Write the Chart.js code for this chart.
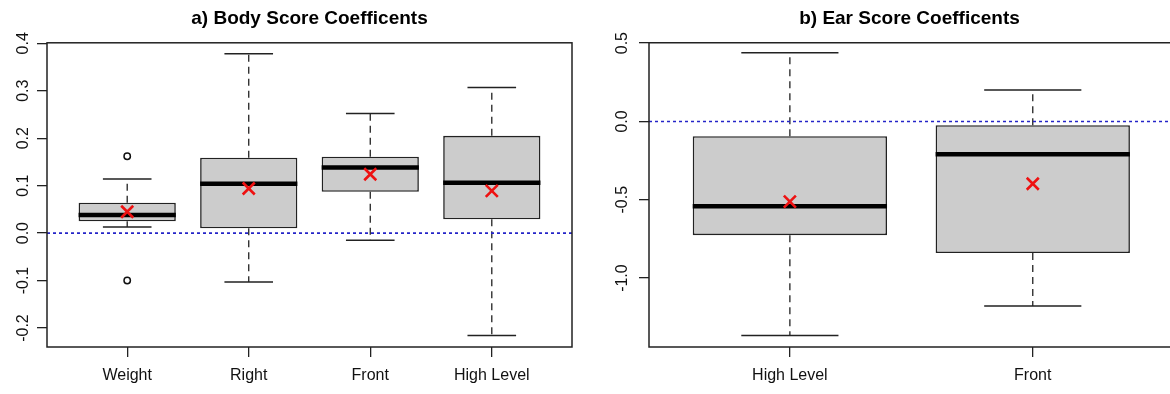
<!DOCTYPE html>
<html>
<head>
<meta charset="utf-8">
<script src="https://cdn.jsdelivr.net/npm/chart.js@4.4.1/dist/chart.umd.min.js"></script>
<style>
  body { margin: 0; background: #fff; }
  canvas { position: absolute; top: 0; }
  #bodyChart { left: 0; }
  #earChart { left: 600px; }
</style>
</head>
<body>
<canvas id="bodyChart" width="600" height="394"></canvas>
<canvas id="earChart" width="570" height="394"></canvas>
<script>
// a) Body score coefficients
const bodyLabels = ["Weight", "Right", "Front", "High Level"];
const bodyMin = [0.013, -0.103, -0.015, -0.216];
const bodyQ1 = [0.025, 0.010, 0.087, 0.029];
const bodyMedian = [0.038, 0.104, 0.138, 0.106];
const bodyQ3 = [0.064, 0.159, 0.161, 0.205];
const bodyMax = [0.114, 0.378, 0.252, 0.307];
const bodyMean = [0.045, 0.094, 0.124, 0.089];
const bodyOutliers = [{ x: 1, y: 0.162 }, { x: 1, y: -0.100 }];
const bodyTicks = [-0.2, -0.1, 0.0, 0.1, 0.2, 0.3, 0.4];

// b) Ear score coefficients
const earLabels = ["High Level", "Front"];
const earMin = [-1.366, -1.179];
const earQ1 = [-0.726, -0.840];
const earMedian = [-0.542, -0.210];
const earQ3 = [-0.094, -0.024];
const earMax = [0.438, 0.200];
const earMean = [-0.512, -0.398];
const earOutliers = [];
const earTicks = [-1.0, -0.5, 0.0, 0.5];

Chart.defaults.font.family = '"Liberation Sans", Arial, Helvetica, sans-serif';
Chart.defaults.color = "#111";

const INK = "#222";

// whiskers, medians, zero line and the box frame, all placed through the chart's scales
const boxExtras = {
  id: "boxExtras",
  beforeDatasetsDraw(chart, args, opts) {
    const { ctx, scales: { y } } = chart;
    const meta = chart.getDatasetMeta(0);
    ctx.save();
    ctx.strokeStyle = INK;
    meta.data.forEach((bar, i) => {
      const x = bar.x;
      const half = bar.width / 4;
      ctx.lineWidth = 1.3;
      ctx.setLineDash([7, 5]);
      ctx.beginPath();
      ctx.moveTo(x, y.getPixelForValue(opts.q3[i]));
      ctx.lineTo(x, y.getPixelForValue(opts.max[i]));
      ctx.moveTo(x, y.getPixelForValue(opts.q1[i]));
      ctx.lineTo(x, y.getPixelForValue(opts.min[i]));
      ctx.stroke();
      ctx.setLineDash([]);
      ctx.lineWidth = 1.5;
      ctx.beginPath();
      for (const v of [opts.max[i], opts.min[i]]) {
        const py = y.getPixelForValue(v);
        ctx.moveTo(x - half, py);
        ctx.lineTo(x + half, py);
      }
      ctx.stroke();
    });
    ctx.restore();
  },
  afterDatasetDraw(chart, args, opts) {
    if (args.index !== 0) return;
    const { ctx, scales: { y } } = chart;
    ctx.save();
    ctx.strokeStyle = "#000";
    ctx.lineWidth = 4.5;
    args.meta.data.forEach((bar, i) => {
      const py = y.getPixelForValue(opts.median[i]);
      ctx.beginPath();
      ctx.moveTo(bar.x - bar.width / 2, py);
      ctx.lineTo(bar.x + bar.width / 2, py);
      ctx.stroke();
    });
    ctx.restore();
  },
  afterDatasetsDraw(chart, args, opts) {
    const { ctx, chartArea: a, scales: { y } } = chart;
    ctx.save();
    // reference line at zero
    const y0 = y.getPixelForValue(0);
    ctx.strokeStyle = "#2424c8";
    ctx.lineWidth = 1.6;
    ctx.setLineDash([3, 3]);
    ctx.beginPath();
    ctx.moveTo(a.left, y0);
    ctx.lineTo(a.right, y0);
    ctx.stroke();
    // frame (the right side of panel b runs off the picture)
    const closed = a.right < chart.width - 1;
    ctx.setLineDash([]);
    ctx.strokeStyle = INK;
    ctx.lineWidth = 1.5;
    if (closed) {
      ctx.strokeRect(a.left, a.top, a.right - a.left, a.bottom - a.top);
    } else {
      ctx.beginPath();
      ctx.moveTo(a.right + 2, a.top);
      ctx.lineTo(a.left, a.top);
      ctx.lineTo(a.left, a.bottom);
      ctx.lineTo(a.right + 2, a.bottom);
      ctx.stroke();
    }
    ctx.restore();
  },
};

function makeBoxChart(id, o) {
  const labels = o.labels;
  return new Chart(document.getElementById(id), {
    type: "bar",
    data: {
      datasets: [
        {
          data: labels.map((_, i) => ({ x: i + 1, y: [o.q1[i], o.q3[i]] })),
          backgroundColor: "#cccccc",
          borderColor: INK,
          borderWidth: 1.6,
          borderSkipped: false,
          categoryPercentage: 0.8,
          barPercentage: 1.0,
          order: 2,
        },
        {
          type: "scatter",
          data: labels.map((_, i) => ({ x: i + 1, y: o.mean[i] })),
          pointStyle: "crossRot",
          pointRadius: 8.5,
          borderColor: "#ee1111",
          borderWidth: 2.6,
          order: 1,
        },
        {
          type: "scatter",
          data: o.outliers,
          pointStyle: "circle",
          pointRadius: 3.2,
          borderColor: "#111",
          backgroundColor: "#fff",
          borderWidth: 1.5,
          order: 1,
        },
      ],
    },
    options: {
      responsive: false,
      animation: false,
      devicePixelRatio: 1,
      layout: { autoPadding: false, padding: { left: 0, right: o.padRight, top: 0, bottom: 0 } },
      plugins: {
        legend: { display: false },
        tooltip: { enabled: false },
        title: {
          display: true,
          text: o.title,
          fullSize: false,
          color: "#000",
          font: { size: 19, weight: "bold" },
          padding: { top: 7, bottom: 13 },
        },
        boxExtras: { min: o.min, q1: o.q1, median: o.median, q3: o.q3, max: o.max },
      },
      scales: {
        x: {
          type: "linear",
          offset: false,
          min: o.xMin,
          max: o.xMax,
          afterBuildTicks: (s) => { s.ticks = labels.map((_, i) => ({ value: i + 1 })); },
          afterFit: (s) => { s.height = 47; },
          ticks: {
            callback: (v) => labels[Math.round(v) - 1],
            autoSkip: false,
            minRotation: 0,
            maxRotation: 0,
            padding: 9,
            color: "#111",
            font: { size: 16 },
          },
          grid: { offset: false, drawOnChartArea: false, tickLength: 10, color: INK, lineWidth: 1.3 },
          border: { display: false },
        },
        y: {
          type: "linear",
          min: o.yMin,
          max: o.yMax,
          afterBuildTicks: (s) => { s.ticks = o.yTicks.map((v) => ({ value: v })); },
          afterFit: (s) => { s.width = o.axisWidth; },
          ticks: {
            callback: (v) => v.toFixed(1),
            autoSkip: false,
            minRotation: 90,
            maxRotation: 90,
            crossAlign: "center",
            padding: o.labelPad,
            color: "#111",
            font: { size: 16 },
          },
          grid: { drawOnChartArea: false, tickLength: 10, color: INK, lineWidth: 1.3 },
          border: { display: false },
        },
      },
    },
    plugins: [boxExtras],
  });
}

makeBoxChart("bodyChart", {
  title: "a) Body Score Coefficents",
  labels: bodyLabels,
  min: bodyMin, q1: bodyQ1, median: bodyMedian, q3: bodyQ3, max: bodyMax,
  mean: bodyMean, outliers: bodyOutliers, yTicks: bodyTicks,
  xMin: 0.34, xMax: 4.66, yMin: -0.24, yMax: 0.401,
  axisWidth: 47, labelPad: 0, padRight: 28,
});

makeBoxChart("earChart", {
  title: "b) Ear Score Coefficents",
  labels: earLabels,
  min: earMin, q1: earQ1, median: earMedian, q3: earQ3, max: earMax,
  mean: earMean, outliers: earOutliers, yTicks: earTicks,
  xMin: 0.42, xMax: 2.565, yMin: -1.44, yMax: 0.502,
  axisWidth: 49, labelPad: 3, padRight: 0,
});
</script>
</body>
</html>
